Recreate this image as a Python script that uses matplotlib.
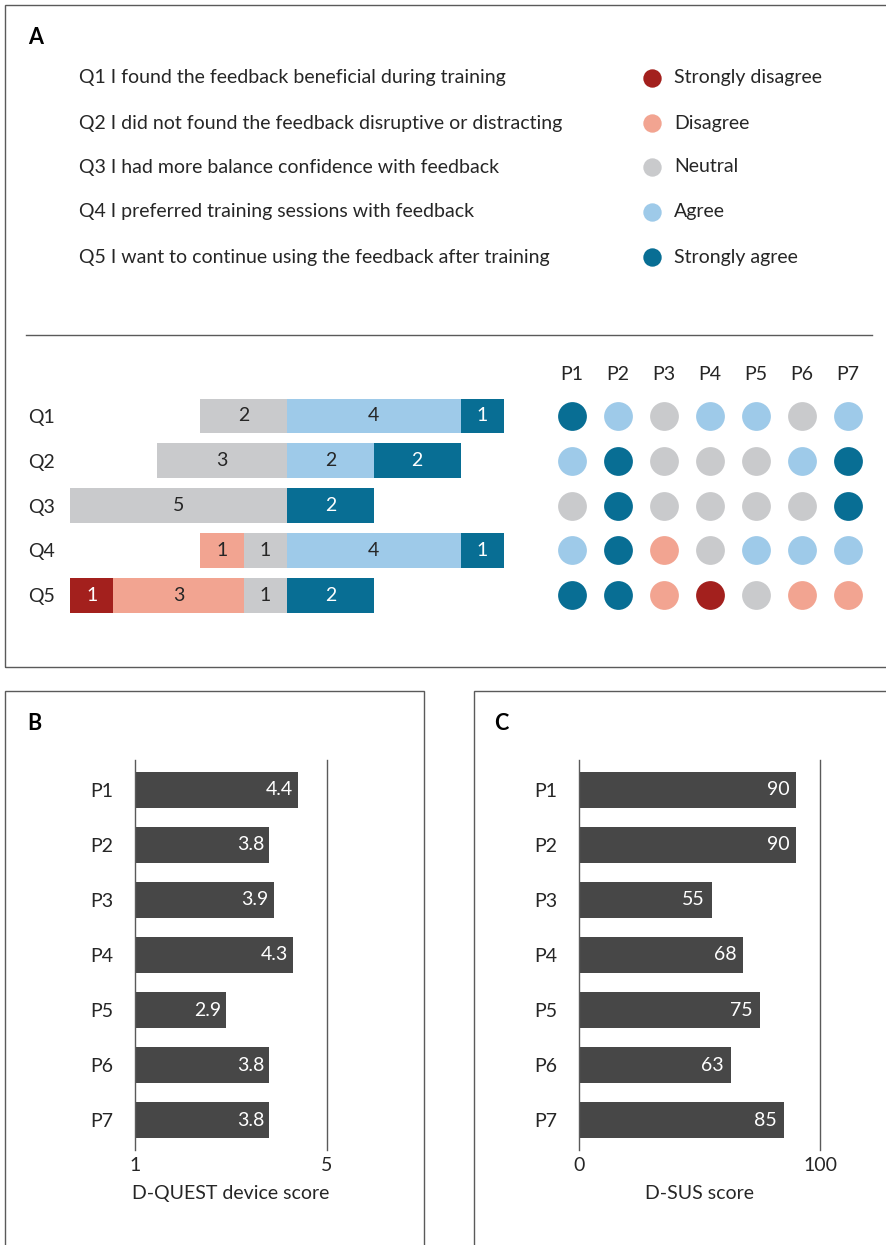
import matplotlib
matplotlib.use("Agg")
import matplotlib.pyplot as plt
from matplotlib.patches import Rectangle
from matplotlib.lines import Line2D

plt.rcParams['font.family'] = ['Lato', 'DejaVu Sans']

# ---------------- data ----------------
questions = ["Q1", "Q2", "Q3", "Q4", "Q5"]
question_texts = [
    "Q1 I found the feedback beneficial during training",
    "Q2 I did not found the feedback disruptive or distracting",
    "Q3 I had more balance confidence with feedback",
    "Q4 I preferred training sessions with feedback",
    "Q5 I want to continue using the feedback after training",
]
levels = ["Strongly disagree", "Disagree", "Neutral", "Agree", "Strongly agree"]
level_colors = ["#A3201D", "#F2A491", "#C9CACC", "#9ECAE9", "#086E94"]
label_colors = ["white", "#262626", "#262626", "#262626", "white"]

# counts per question: SD, D, N, A, SA
count_sd = [0, 0, 0, 0, 1]
count_d = [0, 0, 0, 1, 3]
count_n = [2, 3, 5, 1, 1]
count_a = [4, 2, 0, 4, 0]
count_sa = [1, 2, 2, 1, 2]

participants = ["P1", "P2", "P3", "P4", "P5", "P6", "P7"]
# individual responses (0=SD ... 4=SA), rows = questions, cols = participants
responses = [
    [4, 3, 2, 3, 3, 2, 3],
    [3, 4, 2, 2, 2, 3, 4],
    [2, 4, 2, 2, 2, 2, 4],
    [3, 4, 1, 2, 3, 3, 3],
    [4, 4, 1, 0, 2, 1, 1],
]

dquest = [4.4, 3.8, 3.9, 4.3, 2.9, 3.8, 3.8]
dsus = [90, 90, 55, 68, 75, 63, 85]

# ---------------- layout helpers ----------------
W, H = 886, 1245
fig = plt.figure(figsize=(W / 100, H / 100), dpi=100)
TXT = "#262626"
EDGE = "#5a5a5a"
FS = 14


def px_axes(x0, y0, x1, y1):
    return fig.add_axes([x0 / W, 1 - y1 / H, (x1 - x0) / W, (y1 - y0) / H])


def ftext(x, y, s, **kw):
    kw.setdefault("color", TXT)
    kw.setdefault("fontsize", FS)
    fig.text(x / W, 1 - y / H, s, **kw)


def box(x0, y0, x1, y1):
    fig.patches.append(Rectangle((x0 / W, 1 - y1 / H), (x1 - x0) / W, (y1 - y0) / H,
                                 transform=fig.transFigure, fill=False,
                                 edgecolor=EDGE, lw=1.0))


# panel boxes
box(4.5, 4.5, 895, 667)
box(4.5, 691, 424, 1260)
box(474, 691, 895, 1260)
fig.lines.append(Line2D([26 / W, 872 / W], [1 - 335 / H, 1 - 335 / H],
                        transform=fig.transFigure, color=EDGE, lw=1.0))

# ---------------- panel A: header texts ----------------
ftext(28, 38, "A", fontsize=15.5, fontweight="bold", va="center", ha="left", color="black")
row_y = [78, 123, 167, 212, 257]
for y, t in zip(row_y, question_texts):
    ftext(79, y, t, va="center", ha="left")

leg_ax = px_axes(600, 50, 880, 285)
leg_ax.set_xlim(600, 880)
leg_ax.set_ylim(285, 50)
leg_ax.axis("off")
for y, lab, c in zip(row_y, levels, level_colors):
    leg_ax.scatter([652], [y], s=175, color=c, linewidths=0)
    leg_ax.text(674, y, lab, va="center", ha="left", fontsize=FS, color=TXT)

# ---------------- panel A: diverging bars ----------------
rows = list(range(len(questions)))
ax = px_axes(70, 393.6, 504, 617.6)
ax.set_xlim(-5, 5)
ax.set_ylim(4.5, -0.5)
bh = 0.78
neg_parts = [(count_n, 2), (count_d, 1), (count_sd, 0)]
pos_parts = [(count_a, 3), (count_sa, 4)]
for i in rows:
    left = 0
    for cnts, li in neg_parts:
        v = cnts[i]
        if v:
            ax.barh(i, -v, left=left, height=bh, color=level_colors[li], linewidth=0)
            ax.text(left - v / 2, i, str(v), ha="center", va="center",
                    fontsize=FS, color=label_colors[li])
            left -= v
    left = 0
    for cnts, li in pos_parts:
        v = cnts[i]
        if v:
            ax.barh(i, v, left=left, height=bh, color=level_colors[li], linewidth=0)
            ax.text(left + v / 2, i, str(v), ha="center", va="center",
                    fontsize=FS, color=label_colors[li])
            left += v
ax.set_yticks(rows)
ax.set_yticklabels(questions, fontsize=FS, color=TXT)
ax.tick_params(axis="y", length=0, pad=10.8)
ax.set_xticks([])
for s in ax.spines.values():
    s.set_visible(False)
ax.patch.set_alpha(0)

# ---------------- panel A: dot matrix ----------------
dax = px_axes(549, 393.6, 871, 617.6)
dax.set_xlim(-0.5, 6.5)
dax.set_ylim(4.5, -0.5)
dax.axis("off")
for i in rows:
    for j in range(len(participants)):
        dax.scatter(j, i, s=430, color=level_colors[responses[i][j]], linewidths=0)
for j, p in enumerate(participants):
    dax.text(j, -0.916, p, ha="center", va="center", fontsize=FS, color=TXT, clip_on=False)

# ---------------- panels B and C ----------------
BAR = "#474747"


def score_panel(x0, x1, values, xlim, ticks, xlabel, letter, letter_x):
    ftext(letter_x, 724, letter, fontsize=15.5, fontweight="bold", va="center", ha="left", color="black")
    a = px_axes(x0, 760, x1, 1150)
    yy = list(range(len(participants)))
    a.set_xlim(*xlim)
    a.set_ylim(6.545, -0.545)
    a.barh(yy, [v - xlim[0] for v in values], left=xlim[0], height=0.64, color=BAR, linewidth=0)
    span = xlim[1] - xlim[0]
    for y, v in zip(yy, values):
        a.text(v - span * 0.028, y, f"{v:g}", ha="right", va="center", fontsize=FS, color="white")
    a.set_yticks(yy)
    a.set_yticklabels(participants, fontsize=FS, color=TXT)
    a.tick_params(axis="y", length=0, pad=15.5)
    a.set_xticks(ticks)
    a.set_xticklabels([str(t) for t in ticks], fontsize=FS, color=TXT)
    a.tick_params(axis="x", length=0, pad=5)
    a.set_xlabel(xlabel, fontsize=FS, color=TXT, labelpad=8)
    for k in ["top", "bottom"]:
        a.spines[k].set_visible(False)
    for k in ["left", "right"]:
        a.spines[k].set_color(EDGE)
        a.spines[k].set_linewidth(1.0)
    a.patch.set_alpha(0)


score_panel(135, 327, dquest, (1, 5), [1, 5], "D-QUEST device score", "B", 27)
score_panel(579, 820, dsus, (0, 100), [0, 100], "D-SUS score", "C", 494)

fig.savefig("out.png", dpi=100, facecolor="white")
